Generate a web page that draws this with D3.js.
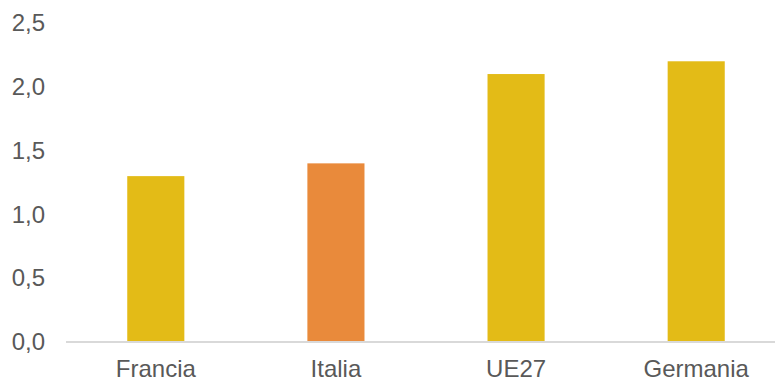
<!DOCTYPE html>
<html>
<head>
<meta charset="utf-8">
<script src="https://cdn.jsdelivr.net/npm/d3@7"></script>
<style>
  html, body { margin: 0; padding: 0; background: #fff; }
  svg { display: block; }
  text { font-family: "Liberation Sans", Arial, sans-serif; fill: #595959; }
</style>
</head>
<body>
<div id="chart"></div>
<script>
// Paesi confrontati e relativi valori
const categories = ["Francia", "Italia", "UE27", "Germania"];
const values = [1.3, 1.4, 2.1, 2.2];
const barColors = ["#E3BB17", "#E98A3B", "#E3BB17", "#E3BB17"];
const yTicks = [0, 0.5, 1.0, 1.5, 2.0, 2.5];

const width = 777, height = 381;
const margin = { top: 23, right: 2, bottom: 39, left: 66 };

const svg = d3.select("#chart").append("svg")
  .attr("width", width)
  .attr("height", height);

// L'area delle categorie prosegue oltre il bordo destro visibile
const x = d3.scaleBand()
  .domain(categories)
  .range([margin.left, margin.left + 720])
  .paddingInner(0.683)
  .paddingOuter(0.34);

const y = d3.scaleLinear()
  .domain([0, 2.5])
  .range([height - margin.bottom, margin.top]);

const fmt = d => d3.format(".1f")(d).replace(".", ",");

// Asse Y: solo etichette
const yAxis = svg.append("g")
  .attr("transform", `translate(${margin.left},0)`)
  .call(d3.axisLeft(y).tickValues(yTicks).tickFormat(fmt).tickSize(0).tickPadding(21));
yAxis.select(".domain").remove();
yAxis.selectAll("text").style("font-size", "24px").attr("fill", "#595959");

// Barre
svg.append("g").selectAll("rect")
  .data(values)
  .join("rect")
  .attr("x", (d, i) => x(categories[i]))
  .attr("y", d => y(d))
  .attr("width", x.bandwidth())
  .attr("height", d => y(0) - y(d))
  .attr("fill", (d, i) => barColors[i]);

// Asse X: etichette delle categorie
const xAxis = svg.append("g")
  .attr("transform", `translate(0,${y(0)})`)
  .call(d3.axisBottom(x).tickSize(0).tickPadding(18).tickSizeOuter(0));
xAxis.select(".domain").remove();
xAxis.selectAll("text").style("font-size", "24px").attr("fill", "#595959");

// Linea di base
svg.append("line")
  .attr("x1", margin.left)
  .attr("x2", width - margin.right)
  .attr("y1", y(0))
  .attr("y2", y(0))
  .attr("stroke", "#D9D9D9")
  .attr("stroke-width", 2);
</script>
</body>
</html>
